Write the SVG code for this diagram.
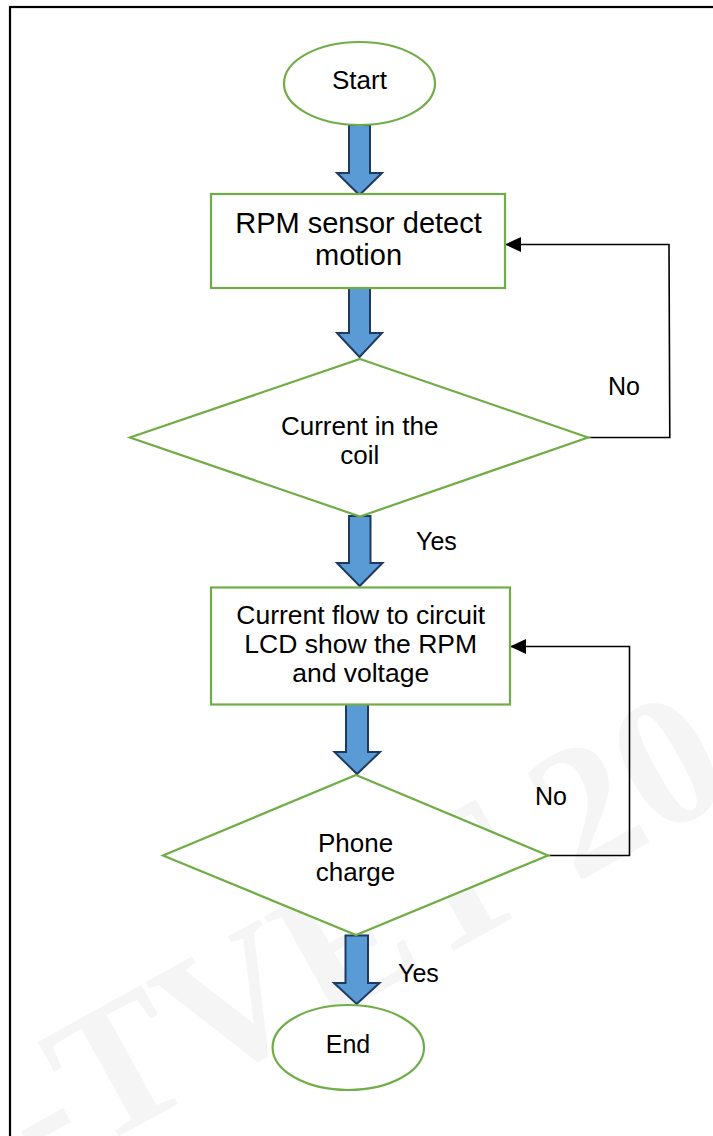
<svg xmlns="http://www.w3.org/2000/svg" width="713" height="1136" viewBox="0 0 713 1136">
  <style>
    .term { fill: #ffffff; stroke: #70AD47; stroke-width: 2.2; }
    .proc { fill: #ffffff; stroke: #70AD47; stroke-width: 2.2; }
    .dec  { fill: #ffffff; stroke: #70AD47; stroke-width: 2.2; stroke-linejoin: miter; }
    .flow { fill: #5B9BD5; stroke: #1F3A60; stroke-width: 2; stroke-linejoin: miter; }
    .loop { fill: none; stroke: #000000; stroke-width: 1.6; }
    .lbl  { font-family: "Liberation Sans", Arial, sans-serif; fill: #000000; text-anchor: middle; }
    .side { font-family: "Liberation Sans", Arial, sans-serif; fill: #000000; font-size: 25px; }
    .mark { font-family: "Liberation Serif", "Times New Roman", serif; font-weight: bold; font-size: 186px; fill: #f5f5f5; }
  </style>
  <defs>
    <marker id="head" markerUnits="userSpaceOnUse" markerWidth="18" markerHeight="16" refX="16" refY="7.5" orient="auto">
      <path d="M0,0 L16,7.5 L0,15 Z" fill="#000000"/>
    </marker>
  </defs>

  <rect x="0" y="0" width="713" height="1136" fill="#ffffff"/>

  <!-- background watermark -->
  <text class="mark" x="40" y="1180" transform="rotate(-29 40 1180)">-TVET 20</text>

  <!-- page frame -->
  <rect x="10" y="7" width="730" height="1160" fill="none" stroke="#000000" stroke-width="2.2"/>

  <!-- connectors -->
  <g id="connectors">
    <path class="flow" d="M349,125 L370,125 L370,173 L382,173 L359.5,195 L337,173 L349,173 Z"/>
    <path class="flow" d="M349,287 L370,287 L370,333 L382,333 L359.5,357 L337,333 L349,333 Z"/>
    <path class="flow" d="M349,516 L370.5,516 L370.5,563 L382.5,563 L359.7,586 L337,563 L349,563 Z"/>
    <path class="flow" d="M346,704 L368,704 L368,752 L380,752 L357,774 L334.5,752 L346,752 Z"/>
    <path class="flow" d="M345.5,935.5 L368,935.5 L368,983 L379.5,983 L356.7,1004 L334,983 L345.5,983 Z"/>
    <polyline class="loop" points="588,437.5 669.8,437.5 669,244.5 505,244.5" marker-end="url(#head)"/>
    <polyline class="loop" points="548,855.5 629.5,855.5 629.5,646.5 510,646.5" marker-end="url(#head)"/>
    <text class="side" x="608" y="395">No</text>
    <text class="side" x="535" y="805">No</text>
    <text class="side" x="416" y="550">Yes</text>
    <text class="side" x="398" y="982">Yes</text>
  </g>

  <g id="start">
    <ellipse class="term" cx="359.5" cy="83.5" rx="75.5" ry="41.5"/>
    <text class="lbl" x="359.5" y="89" font-size="26">Start</text>
  </g>

  <g id="detect">
    <rect class="proc" x="211" y="194" width="294" height="94"/>
    <text class="lbl" x="358.5" y="233" font-size="29">RPM sensor detect</text>
    <text class="lbl" x="358.5" y="265" font-size="29">motion</text>
  </g>

  <g id="coil">
    <polygon class="dec" points="360,359 588,437.5 360,516.5 130,437.5"/>
    <text class="lbl" x="359.7" y="435" font-size="26">Current in the</text>
    <text class="lbl" x="359.7" y="464" font-size="26">coil</text>
  </g>

  <g id="circuit">
    <rect class="proc" x="211" y="587.5" width="299" height="117"/>
    <text class="lbl" x="360.7" y="624" font-size="26.5">Current flow to circuit</text>
    <text class="lbl" x="360.7" y="653" font-size="26.5">LCD show the RPM</text>
    <text class="lbl" x="360.7" y="682" font-size="26.5">and voltage</text>
  </g>

  <g id="charge">
    <polygon class="dec" points="356,775 548,855.5 356,935 163,855.5"/>
    <text class="lbl" x="355.5" y="851.5" font-size="26">Phone</text>
    <text class="lbl" x="355.5" y="880.5" font-size="26">charge</text>
  </g>

  <g id="end">
    <ellipse class="term" cx="348.3" cy="1047.5" rx="75.7" ry="42.5"/>
    <text class="lbl" x="348" y="1053.3" font-size="25">End</text>
  </g>
</svg>
